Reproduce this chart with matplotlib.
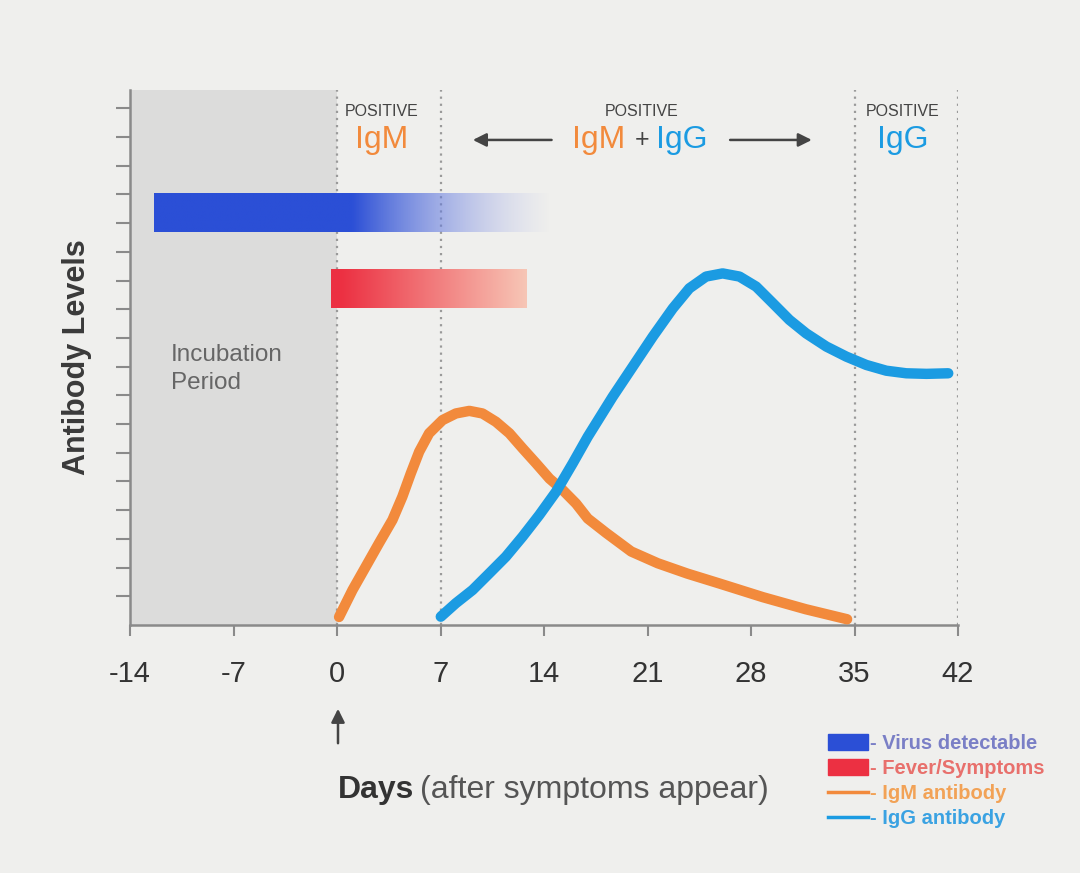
import numpy as np
import matplotlib
matplotlib.use('Agg')
import matplotlib.pyplot as plt
from matplotlib.patches import Patch, FancyArrowPatch
from matplotlib.lines import Line2D

plt.rcParams['font.family'] = ['Liberation Sans', 'DejaVu Sans']

# days after symptoms / antibody level (in y-tick units)
igm_days = [0.14, 1.05, 1.94, 2.84, 3.75, 4.42, 4.99, 5.56, 6.23, 7.14, 8.04, 8.95, 9.84,
            10.75, 11.66, 12.56, 13.47, 14.37, 15.27, 16.17, 16.96, 18.2, 19.9, 21.7,
            23.7, 25.9, 28.8, 31.7, 34.5]
igm_level = [0.28, 1.22, 2.03, 2.85, 3.66, 4.47, 5.28, 6.04, 6.68, 7.14, 7.37, 7.46, 7.37,
             7.08, 6.68, 6.15, 5.63, 5.1, 4.7, 4.23, 3.71, 3.21, 2.56, 2.15,
             1.79, 1.44, 0.97, 0.55, 0.2]

igg_days = [7.02, 8.04, 9.17, 10.3, 11.42, 12.55, 13.68, 14.81, 15.94, 16.96, 18.64, 20.0,
            21.36, 22.71, 23.83, 24.96, 26.08, 27.22, 28.35, 29.48, 30.6, 31.73, 33.1,
            34.45, 35.8, 37.15, 38.5, 39.87, 41.34]
igg_level = [0.29, 0.76, 1.22, 1.8, 2.38, 3.08, 3.83, 4.64, 5.63, 6.56, 7.95, 9.0,
             10.05, 11.03, 11.73, 12.14, 12.25, 12.14, 11.79, 11.21, 10.63, 10.16, 9.7,
             9.35, 9.06, 8.86, 8.77, 8.75, 8.77]

# horizontal bars: start, end (days), bottom, top (levels)
virus_bar = [-12.4, 14.4, 13.7, 15.05]
fever_bar = [-0.4, 12.8, 11.05, 12.4]

xticks = [-14, -7, 0, 7, 14, 21, 28, 35, 42]
yticks = list(range(1, 19))
dotted_days = [0, 7, 35, 42]

c_igm = '#f28a3c'
c_igg = '#1b9be2'
c_virus = '#2b4fd6'
c_fever = '#ec3042'
bg = '#efefed'

fig = plt.figure(figsize=(10.8, 8.73), dpi=100, facecolor=bg)
ax = fig.add_axes([130/1080, 1-625/873, 828/1080, 535/873], facecolor=bg)

ax.axvspan(-14, 0, color='#dcdcdb', zorder=0, lw=0)

for d in dotted_days:
    ax.axvline(d, color='#9a9a9a', lw=1.6, ls=(0, (1, 2.2)), zorder=1)

def grad_bar(ext, c0, c1, solid_frac, a1):
    n = 256
    t = np.linspace(0, 1, n)
    f = np.clip((t - solid_frac) / (1 - solid_frac), 0, 1)
    r0 = np.array(matplotlib.colors.to_rgb(c0))
    r1 = np.array(matplotlib.colors.to_rgb(c1))
    img = np.zeros((1, n, 4))
    img[0, :, :3] = r0[None, :] * (1 - f[:, None]) + r1[None, :] * f[:, None]
    img[0, :, 3] = 1 - (1 - a1) * f
    ax.imshow(img, extent=ext, aspect='auto', interpolation='bilinear', zorder=2)

grad_bar(virus_bar, c_virus, '#a8b0ec', 0.5, 0.0)
grad_bar(fever_bar, c_fever, '#f7c6b6', 0.05, 1.0)
ax.set_xlim(-14, 42)
ax.set_ylim(0, 18.64)

ax.plot(igm_days, igm_level, color=c_igm, lw=7.5, solid_capstyle='round',
        solid_joinstyle='round', zorder=3)
ax.plot(igg_days, igg_level, color=c_igg, lw=7.5, solid_capstyle='round',
        solid_joinstyle='round', zorder=4)

for s in ['top', 'right']:
    ax.spines[s].set_visible(False)
for s in ['left', 'bottom']:
    ax.spines[s].set_color('#8a8a8a')
    ax.spines[s].set_linewidth(1.8)

ax.set_xticks(xticks)
ax.set_xticklabels([str(v) for v in xticks], fontsize=21, color='#333333')
ax.set_yticks(yticks)
ax.set_yticklabels([])
ax.tick_params(axis='x', length=8, width=1.5, color='#8a8a8a', pad=17)
ax.tick_params(axis='y', length=10, width=1.5, color='#8a8a8a')

ax.set_ylabel('Antibody Levels', fontsize=22, fontweight='bold', color='#3a3a3a', labelpad=14)

ax.text(-11.24, 8.92, 'Incubation\nPeriod', fontsize=17.5, color='#666666',
        va='center', ha='left', linespacing=1.35)

# header labels
ax.text(3.05, 17.9, 'POSITIVE', fontsize=11.5, color='#444444', ha='center', va='center')
ax.text(3.05, 16.9, 'IgM', fontsize=23, color=c_igm, ha='center', va='center')
ax.text(20.6, 17.9, 'POSITIVE', fontsize=11.5, color='#444444', ha='center', va='center')
ax.text(17.7, 16.9, 'IgM', fontsize=23, color=c_igm, ha='center', va='center')
ax.text(20.6, 16.9, '+', fontsize=18, color='#444444', ha='center', va='center')
ax.text(23.3, 16.9, 'IgG', fontsize=23, color=c_igg, ha='center', va='center')
ax.text(38.25, 17.9, 'POSITIVE', fontsize=11.5, color='#444444', ha='center', va='center')
ax.text(38.25, 16.9, 'IgG', fontsize=23, color=c_igg, ha='center', va='center')

arrow_kw = dict(arrowstyle='-|>', color='#444444', lw=1.8, mutation_scale=20)
ax.annotate('', xy=(9.0, 16.9), xytext=(14.7, 16.9), arrowprops=arrow_kw, annotation_clip=False)
ax.annotate('', xy=(32.3, 16.9), xytext=(26.4, 16.9), arrowprops=arrow_kw, annotation_clip=False)

# arrow below day 0 and x label
fig.patches.append(FancyArrowPatch(
    (338/1080, 1-746/873), (338/1080, 1-706/873), transform=fig.transFigure,
    arrowstyle='-|>', color='#444444', lw=1.8, mutation_scale=20))
t1 = fig.text(338/1080, 1-790/873, 'Days', fontsize=23, fontweight='bold',
              color='#333333', ha='left', va='center')
fig.canvas.draw()
bb = t1.get_window_extent()
fig.text(bb.x1/1080 + 0.005, 1-790/873, '(after symptoms appear)', fontsize=23,
         color='#555555', ha='left', va='center')

handles = [Patch(color=c_virus), Patch(color=c_fever),
           Line2D([], [], color=c_igm, lw=2.5), Line2D([], [], color=c_igg, lw=2.5)]
labels = ['- Virus detectable', '- Fever/Symptoms', '- IgM antibody', '- IgG antibody']
fig.legend(handles, labels, loc='upper left', bbox_to_anchor=(818/1080, 1-724/873),
           frameon=False, labelcolor=['#7a7fc6', '#e8706c', '#f2a256', '#3aa2e2'],
           prop=dict(weight='bold', size=14.5), handlelength=2.0, handleheight=0.85,
           handletextpad=0.1, labelspacing=0.3, borderpad=0)

fig.savefig('out.png', dpi=100, facecolor=bg)
